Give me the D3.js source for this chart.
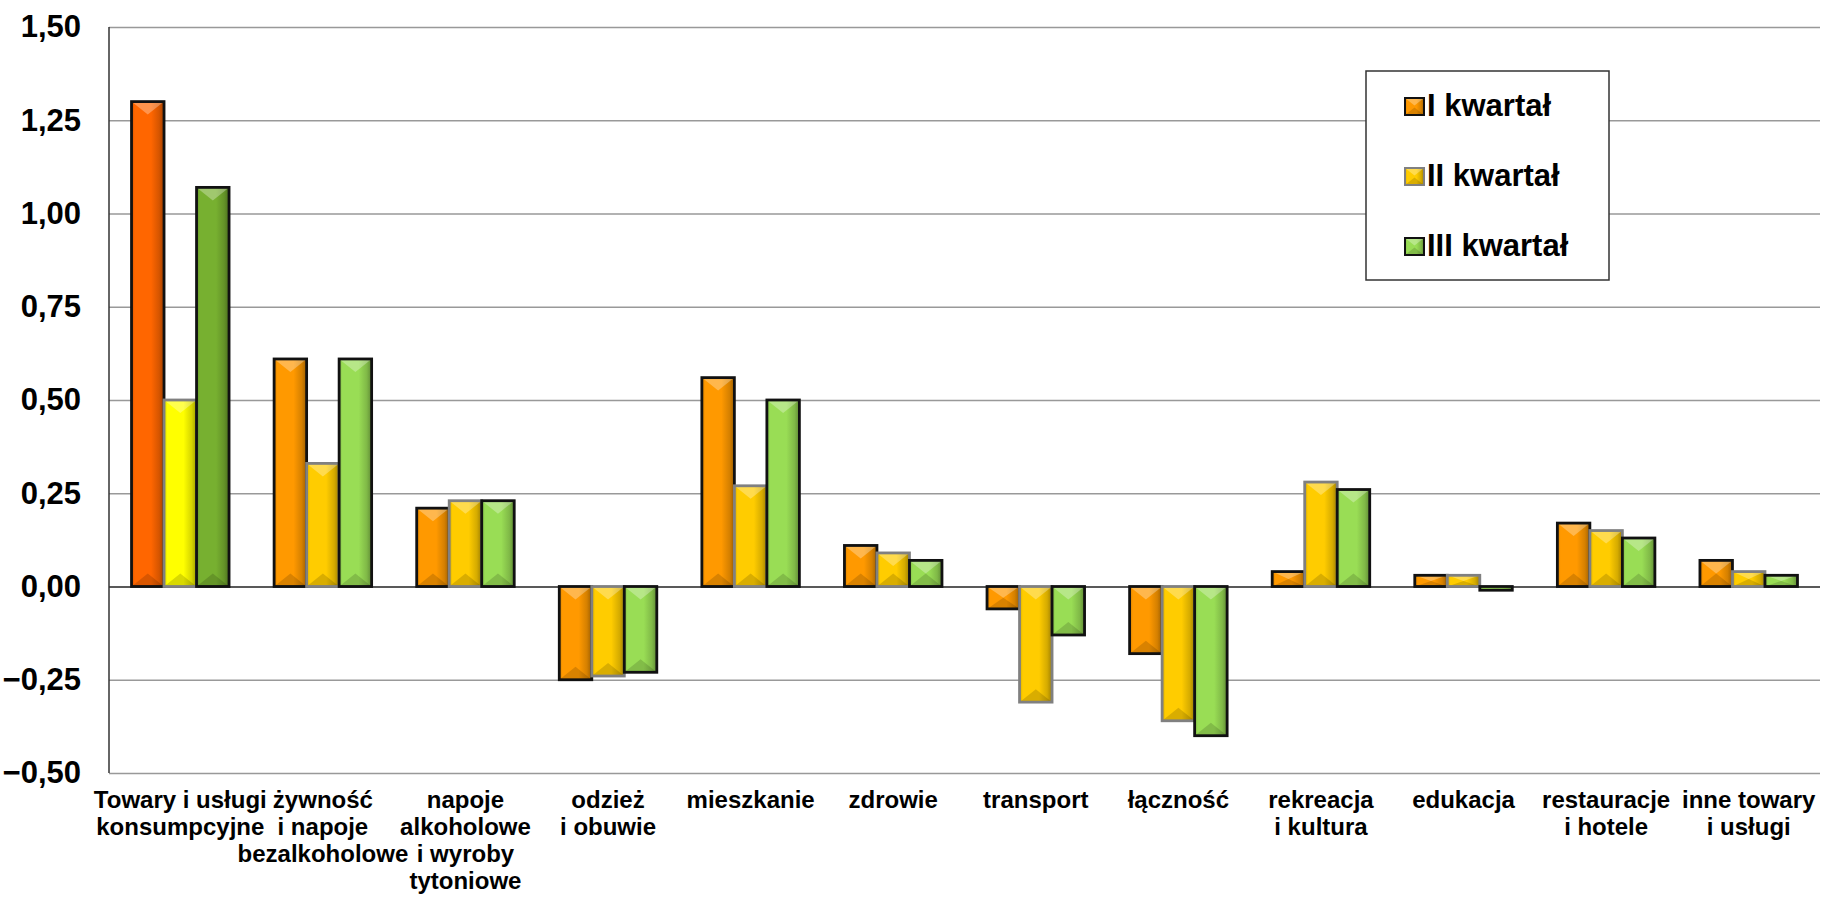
<!DOCTYPE html>
<html>
<head>
<meta charset="utf-8">
<script src="https://cdn.jsdelivr.net/npm/d3@7"></script>
<style>
    body { margin: 0; background: #fff; }
    text { font-family: "Liberation Sans", Arial, sans-serif; font-weight: bold; fill: #000; }
</style>
</head>
<body>
<div id="chart"></div>
<script>
// kategorie (etykiety w liniach) i wartości dla kwartałów
var categories = [
    "Towary i usługi\nkonsumpcyjne",
    "żywność\ni napoje\nbezalkoholowe",
    "napoje\nalkoholowe\ni wyroby\ntytoniowe",
    "odzież\ni obuwie",
    "mieszkanie",
    "zdrowie",
    "transport",
    "łączność",
    "rekreacja\ni kultura",
    "edukacja",
    "restauracje\ni hotele",
    "inne towary\ni usługi"
];
var seriesNames = ["I kwartał", "II kwartał", "III kwartał"];
var q1 = [1.30, 0.61, 0.21, -0.25, 0.56, 0.11, -0.06, -0.18, 0.04, 0.03, 0.17, 0.07];
var q2 = [0.50, 0.33, 0.23, -0.24, 0.27, 0.09, -0.31, -0.36, 0.28, 0.03, 0.15, 0.04];
var q3 = [1.07, 0.61, 0.23, -0.23, 0.50, 0.07, -0.13, -0.40, 0.26, -0.01, 0.13, 0.03];
var yTicks = [-0.5, -0.25, 0, 0.25, 0.5, 0.75, 1, 1.25, 1.5];

var width = 1823
var height = 898
var margin = {top: 27, right: 3, bottom: 125, left: 109};
var plotW = width - margin.left - margin.right;
var plotH = height - margin.top - margin.bottom;

// kolory: pierwsza grupa (ogółem) ma inne odcienie
var colorsTotal = ["#FF6600", "#FFFF00", "#77B030"];
var colors = ["#FF9900", "#FFCC00", "#99DD55"];
var strokes = ["#111", "#808080", "#111"];

var values = [q1, q2, q3];

var svg = d3.select("#chart").append("svg")
    .attr("width", width)
    .attr("height", height);

var defs = svg.append("defs");

function gradId(c) { return "g" + c.replace("#", ""); }

colorsTotal.concat(colors).forEach(function (c) {
    var g = defs.append("linearGradient")
        .attr("id", gradId(c))
        .attr("x1", 0).attr("x2", 1).attr("y1", 0).attr("y2", 0);
    var base = d3.color(c);
    [[0, base.darker(0.5)], [0.1, base], [0.6, base], [0.85, base.darker(0.5)], [1, base.darker(1.3)]]
        .forEach(function (s) {
            g.append("stop").attr("offset", s[0]).attr("stop-color", s[1]);
        });
});

var x0 = d3.scaleBand().domain(d3.range(categories.length)).range([0, plotW]);
var inner = x0.bandwidth() * 0.684;
var x1 = d3.scaleBand().domain(d3.range(3))
    .range([(x0.bandwidth() - inner) / 2, (x0.bandwidth() + inner) / 2]);
var y = d3.scaleLinear().domain([-0.5, 1.5]).range([plotH, 0]);

var fmt = function (d) { return d3.format(".2f")(d).replace(".", ","); };

var plot = svg.append("g").attr("transform", "translate(" + margin.left + "," + margin.top + ")");

// siatka + etykiety osi Y
var yAxis = plot.append("g")
    .call(d3.axisLeft(y).tickValues(yTicks).tickFormat(fmt).tickSize(-plotW).tickPadding(28));
yAxis.select(".domain").remove();
yAxis.selectAll(".tick line")
    .attr("stroke", function (d) { return d === 0 ? "#222" : "#999"; })
    .attr("stroke-width", 1.5);
yAxis.selectAll(".tick text")
    .attr("font-size", 31)
    .attr("font-family", "Liberation Sans, Arial, sans-serif")
    .attr("font-weight", "bold")
    .attr("fill", "#000");

plot.append("line")
    .attr("x1", 0).attr("x2", 0)
    .attr("y1", 0).attr("y2", plotH)
    .attr("stroke", "#333").attr("stroke-width", 1.5);

// słupki
var bars = [];
categories.forEach(function (c, i) {
    for (var j = 0; j < 3; j++) {
        bars.push({cat: i, s: j, v: values[j][i]});
    }
});

function barColor(d) { return d.cat === 0 ? colorsTotal[d.s] : colors[d.s]; }

function drawBevel(g, x, y0, w, h) {
    var d = Math.min(w * 0.4, h / 2);
    g.append("polygon")
        .attr("points", [[x, y0], [x + w, y0], [x + w / 2, y0 + d]].join(" "))
        .attr("fill", "#fff").attr("opacity", 0.3);
    g.append("polygon")
        .attr("points", [[x, y0 + h], [x + w, y0 + h], [x + w / 2, y0 + h - d]].join(" "))
        .attr("fill", "#000").attr("opacity", 0.15);
}

var barG = plot.append("g").selectAll("g")
    .data(bars)
    .enter().append("g");

barG.each(function (d) {
    var g = d3.select(this);
    var bx = x0(d.cat) + x1(d.s);
    var bw = x1.bandwidth();
    var top = y(Math.max(d.v, 0));
    var h = Math.abs(y(d.v) - y(0));
    g.append("rect")
        .attr("x", bx).attr("y", top)
        .attr("width", bw).attr("height", h)
        .attr("fill", "url(#" + gradId(barColor(d)) + ")");
    drawBevel(g, bx, top, bw, h);
    g.append("rect")
        .attr("x", bx).attr("y", top)
        .attr("width", bw).attr("height", h)
        .attr("fill", "none")
        .attr("stroke", strokes[d.s])
        .attr("stroke-width", 2.8);
});

// etykiety kategorii
var xLabels = plot.append("g").selectAll("text")
    .data(categories)
    .enter().append("text")
    .attr("text-anchor", "middle")
    .attr("font-size", 24)
    .attr("transform", function (d, i) {
        return "translate(" + (x0(i) + x0.bandwidth() / 2) + "," + (plotH + 35) + ")";
    });

xLabels.each(function (d) {
    var t = d3.select(this);
    d.split("\n").forEach(function (line, k) {
        t.append("tspan").attr("x", 0).attr("y", k * 27).text(line);
    });
});

// legenda
var legend = svg.append("g").attr("transform", "translate(1366,71)");
legend.append("rect")
    .attr("width", 243).attr("height", 209)
    .attr("fill", "#fff")
    .attr("stroke", "#333").attr("stroke-width", 1.5);

var item = legend.selectAll(".item")
    .data(seriesNames)
    .enter().append("g")
    .attr("class", "item")
    .attr("transform", function (d, i) { return "translate(39," + (27 + i * 70) + ")"; });

item.each(function (d, i) {
    var g = d3.select(this);
    g.append("rect")
        .attr("width", 19).attr("height", 17)
        .attr("fill", "url(#" + gradId(colors[i]) + ")");
    drawBevel(g, 0, 0, 19, 17);
    g.append("rect")
        .attr("width", 19).attr("height", 17)
        .attr("fill", "none")
        .attr("stroke", strokes[i])
        .attr("stroke-width", 2);
    g.append("text")
        .attr("x", 22).attr("y", 18)
        .attr("font-size", 31)
        .text(d);
});
</script>
</body>
</html>
